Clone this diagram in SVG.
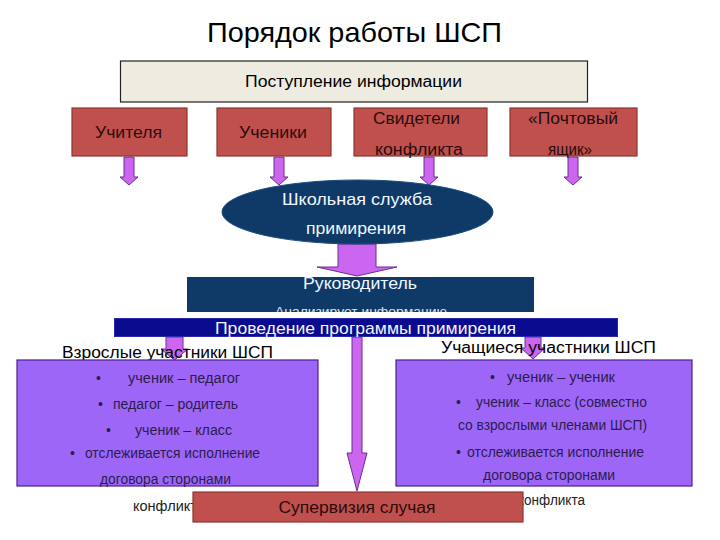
<svg xmlns="http://www.w3.org/2000/svg" width="720" height="540" viewBox="0 0 720 540">
<style>
text{font-family:"Liberation Sans",Arial,sans-serif}
.title{font-size:28px;fill:#000}
.lbl{font-size:16px;fill:#000}
.red{fill:#C0504D;stroke:#8C3533;stroke-width:1.2}
.redt{font-size:16px;fill:#2a0c0c}
.navy{fill:#0F3A68}
.wt{fill:#F2F6FF}
.purp{fill:#9E66F7;stroke:#4B1E8C;stroke-width:1.2}
.pt{font-size:14px;fill:#2a1d4f}
.arr{fill:#CC66F0;stroke:#6A2D8F;stroke-width:1}
.small{font-size:14px;fill:#222}
</style>
<defs>
<clipPath id="rukClip"><rect x="187" y="277" width="347" height="35"/></clipPath>
</defs>
<rect width="720" height="540" fill="#fff"/>
<text class="title" x="354.5" y="42" text-anchor="middle" textLength="295" lengthAdjust="spacingAndGlyphs">Порядок работы ШСП</text>

<g id="connectors">
<path class="arr" d="M124,157 H134 V177 H138 L129,185 L120,177 H124 Z"/>
<path class="arr" d="M274,157 H284 V177 H288 L279,185 L270,177 H274 Z"/>
<path class="arr" d="M424,157 H434 V177 H438 L429,185 L420,177 H424 Z"/>
<path class="arr" d="M568,157 H578 V177 H582 L573,185 L564,177 H568 Z"/>
<path class="arr" d="M338,244 H376 V267 H397 L357,276 L317,267 H338 Z"/>
<path class="arr" d="M166,337 H183 V349 H188 L174.5,360 L161,349 H166 Z"/>
<path class="arr" d="M525,337 H541 V348 H545 L533,359 L521,348 H525 Z"/>
<path class="arr" d="M352,337 H362 V453 H367 L357,491 L347,453 H352 Z"/>
</g>

<g id="info">
<rect x="120.5" y="61" width="467" height="41" fill="#EEECE1" stroke="#222" stroke-width="1.2"/>
<text class="lbl" x="353.5" y="87" text-anchor="middle" textLength="217" lengthAdjust="spacingAndGlyphs">Поступление информации</text>
</g>

<g id="teachers">
<rect class="red" x="72" y="108" width="115" height="48"/>
<text class="redt" x="128.5" y="138" text-anchor="middle" textLength="67" lengthAdjust="spacingAndGlyphs">Учителя</text>
</g>
<g id="students">
<rect class="red" x="217" y="108" width="114" height="48"/>
<text class="redt" x="273" y="138" text-anchor="middle" textLength="68" lengthAdjust="spacingAndGlyphs">Ученики</text>
</g>
<g id="witnesses">
<rect class="red" x="354" y="108" width="133" height="48"/>
<text class="redt" x="416.5" y="124" text-anchor="middle" textLength="87" lengthAdjust="spacingAndGlyphs">Свидетели</text>
<text class="redt" x="419" y="155" text-anchor="middle" textLength="88" lengthAdjust="spacingAndGlyphs">конфликта</text>
</g>
<g id="mailbox">
<rect class="red" x="510" y="108" width="127" height="48"/>
<text class="redt" x="573" y="124" text-anchor="middle" textLength="90" lengthAdjust="spacingAndGlyphs">«Почтовый</text>
<text class="redt" x="570" y="155" text-anchor="middle" textLength="44" lengthAdjust="spacingAndGlyphs">ящик»</text>
</g>

<g id="service">
<ellipse cx="357.5" cy="212" rx="135.5" ry="32" fill="#0F3A68" stroke="#1c4c80" stroke-width="1"/>
<text class="wt" x="357" y="205" font-size="17" text-anchor="middle" textLength="150" lengthAdjust="spacingAndGlyphs">Школьная служба</text>
<text class="wt" x="356" y="234" font-size="17" text-anchor="middle" textLength="100" lengthAdjust="spacingAndGlyphs">примирения</text>
</g>

<g id="leader">
<rect class="navy" x="187" y="277" width="347" height="35"/>
<text class="wt" x="360" y="289" font-size="16" text-anchor="middle" textLength="114" lengthAdjust="spacingAndGlyphs">Руководитель</text>
<g clip-path="url(#rukClip)">
<text x="361" y="316" font-size="12" fill="#DDE4EE" text-anchor="middle" textLength="172" lengthAdjust="spacingAndGlyphs">Анализирует информацию</text>
</g>
</g>

<g id="program">
<rect x="114.5" y="318.5" width="503" height="18" fill="#0B0B8F" stroke="#2A2AB0" stroke-width="1"/>
<text class="wt" x="365.5" y="334" font-size="17" text-anchor="middle" textLength="301" lengthAdjust="spacingAndGlyphs">Проведение программы примирения</text>
</g>

<g id="adults">
<text class="lbl" x="62" y="358" textLength="211" lengthAdjust="spacingAndGlyphs">Взрослые участники ШСП</text>
<rect class="purp" x="17" y="360" width="301" height="126"/>
<text class="pt" x="96" y="383">•</text>
<text class="pt" x="128" y="383" textLength="112" lengthAdjust="spacingAndGlyphs">ученик – педагог</text>
<text class="pt" x="98" y="409">•</text>
<text class="pt" x="113" y="409" textLength="125" lengthAdjust="spacingAndGlyphs">педагог – родитель</text>
<text class="pt" x="106" y="435">•</text>
<text class="pt" x="135" y="435" textLength="97" lengthAdjust="spacingAndGlyphs">ученик – класс</text>
<text class="pt" x="70" y="458">•</text>
<text class="pt" x="85" y="458" textLength="175" lengthAdjust="spacingAndGlyphs">отслеживается исполнение</text>
<text class="pt" x="100" y="484" textLength="131" lengthAdjust="spacingAndGlyphs">договора сторонами</text>
</g>

<g id="pupils">
<text class="lbl" x="441" y="353" textLength="215" lengthAdjust="spacingAndGlyphs">Учащиеся участники ШСП</text>
<rect class="purp" x="396" y="360" width="296" height="126"/>
<text class="pt" x="490" y="382">•</text>
<text class="pt" x="507" y="382" textLength="108" lengthAdjust="spacingAndGlyphs">ученик – ученик</text>
<text class="pt" x="456" y="407">•</text>
<text class="pt" x="476" y="407" textLength="171" lengthAdjust="spacingAndGlyphs">ученик – класс (совместно</text>
<text class="pt" x="458" y="430" textLength="189" lengthAdjust="spacingAndGlyphs">со взрослыми членами ШСП)</text>
<text class="pt" x="456" y="457">•</text>
<text class="pt" x="467" y="457" textLength="177" lengthAdjust="spacingAndGlyphs">отслеживается исполнение</text>
<text class="pt" x="483" y="480" textLength="132" lengthAdjust="spacingAndGlyphs">договора сторонами</text>
</g>

<g id="conflict-notes">
<text class="small" x="133" y="511" textLength="64" lengthAdjust="spacingAndGlyphs">конфликт</text>
<text class="small" x="518" y="505" textLength="67" lengthAdjust="spacingAndGlyphs">конфликта</text>
</g>

<g id="supervision">
<rect class="red" x="193" y="492" width="330" height="30"/>
<text class="redt" x="357" y="513" font-size="17" text-anchor="middle" textLength="157" lengthAdjust="spacingAndGlyphs">Супервизия случая</text>
</g>
</svg>
